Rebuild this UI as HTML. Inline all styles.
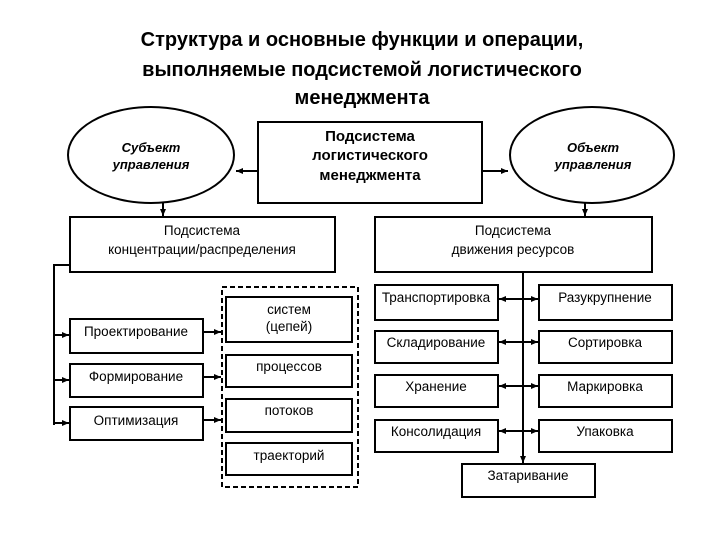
<!DOCTYPE html>
<html><head><meta charset="utf-8"><style>
html,body{margin:0;padding:0;background:#fff;}
svg{display:block;}
text{font-family:"Liberation Sans","DejaVu Sans",sans-serif;fill:#000;}
</style></head><body>
<svg width="720" height="540" viewBox="0 0 720 540" xmlns="http://www.w3.org/2000/svg">
<defs>
<marker id="a" markerWidth="8" markerHeight="8" refX="7" refY="4" orient="auto" markerUnits="userSpaceOnUse">
<path d="M0,1 L7,4 L0,7 z" fill="#000"/></marker>
</defs>
<g text-anchor="middle" font-weight="bold" font-size="20">
<text x="362" y="46">Структура и основные функции и операции,</text>
<text x="362" y="76">выполняемые подсистемой логистического</text>
<text x="362" y="104">менеджмента</text>
</g>
<g fill="none" stroke="#000" stroke-width="2">
<ellipse cx="151" cy="155" rx="83" ry="48"/>
<ellipse cx="592" cy="155" rx="82" ry="48"/>
<rect x="258" y="122" width="224" height="81"/>
<rect x="70" y="217" width="265" height="55"/>
<rect x="375" y="217" width="277" height="55"/>
<rect x="70" y="319" width="133" height="34"/>
<rect x="70" y="364" width="133" height="33"/>
<rect x="70" y="407" width="133" height="33"/>
<rect x="222" y="287" width="136" height="200" stroke-dasharray="5,3"/>
<rect x="226" y="297" width="126" height="45"/>
<rect x="226" y="355" width="126" height="32"/>
<rect x="226" y="399" width="126" height="33"/>
<rect x="226" y="443" width="126" height="32"/>
<rect x="375" y="285" width="123" height="35"/>
<rect x="375" y="331" width="123" height="32"/>
<rect x="375" y="375" width="123" height="32"/>
<rect x="375" y="420" width="123" height="32"/>
<rect x="539" y="285" width="133" height="35"/>
<rect x="539" y="331" width="133" height="32"/>
<rect x="539" y="375" width="133" height="32"/>
<rect x="539" y="420" width="133" height="32"/>
<rect x="462" y="464" width="133" height="33"/>
</g>
<g stroke="#000" stroke-width="2" fill="none">
<line x1="258" y1="171" x2="236" y2="171" marker-end="url(#a)"/>
<line x1="482" y1="171" x2="508" y2="171" marker-end="url(#a)"/>
<line x1="163" y1="203" x2="163" y2="216" marker-end="url(#a)"/>
<line x1="585" y1="203" x2="585" y2="216" marker-end="url(#a)"/>
<polyline points="70,265 54,265 54,425"/>
<line x1="54" y1="335" x2="69" y2="335" marker-end="url(#a)"/>
<line x1="54" y1="380" x2="69" y2="380" marker-end="url(#a)"/>
<line x1="54" y1="423" x2="69" y2="423" marker-end="url(#a)"/>
<line x1="203" y1="332" x2="221" y2="332" marker-end="url(#a)"/>
<line x1="203" y1="377" x2="221" y2="377" marker-end="url(#a)"/>
<line x1="203" y1="420" x2="221" y2="420" marker-end="url(#a)"/>
<line x1="523" y1="272" x2="523" y2="463" marker-end="url(#a)"/>
<g>
<line x1="523" y1="299" x2="499" y2="299" marker-end="url(#a)"/><line x1="523" y1="299" x2="538" y2="299" marker-end="url(#a)"/>
<line x1="523" y1="342" x2="499" y2="342" marker-end="url(#a)"/><line x1="523" y1="342" x2="538" y2="342" marker-end="url(#a)"/>
<line x1="523" y1="386" x2="499" y2="386" marker-end="url(#a)"/><line x1="523" y1="386" x2="538" y2="386" marker-end="url(#a)"/>
<line x1="523" y1="431" x2="499" y2="431" marker-end="url(#a)"/><line x1="523" y1="431" x2="538" y2="431" marker-end="url(#a)"/>
</g>
</g>
<g text-anchor="middle" font-weight="bold" font-style="italic" font-size="13">
<text x="151" y="152">Субъект</text><text x="151" y="169">управления</text>
<text x="593" y="152">Объект</text><text x="593" y="169">управления</text>
</g>
<g text-anchor="middle" font-weight="bold" font-size="15">
<text x="370" y="141">Подсистема</text><text x="370" y="160">логистического</text><text x="370" y="180">менеджмента</text>
</g>
<g text-anchor="middle" font-size="13.5">
<text x="202" y="235">Подсистема</text><text x="202" y="254">концентрации/распределения</text>
<text x="513" y="235">Подсистема</text><text x="513" y="254">движения ресурсов</text>
<text x="136" y="336">Проектирование</text>
<text x="136" y="381">Формирование</text>
<text x="136" y="425">Оптимизация</text>
<text x="289" y="314">систем</text><text x="289" y="331">(цепей)</text>
<text x="289" y="371">процессов</text>
<text x="289" y="415">потоков</text>
<text x="289" y="460">траекторий</text>
<text x="436" y="302">Транспортировка</text>
<text x="436" y="347">Складирование</text>
<text x="436" y="391">Хранение</text>
<text x="436" y="436">Консолидация</text>
<text x="605" y="302">Разукрупнение</text>
<text x="605" y="347">Сортировка</text>
<text x="605" y="391">Маркировка</text>
<text x="605" y="436">Упаковка</text>
<text x="528" y="480">Затаривание</text>
</g>
</svg>
</body></html>
